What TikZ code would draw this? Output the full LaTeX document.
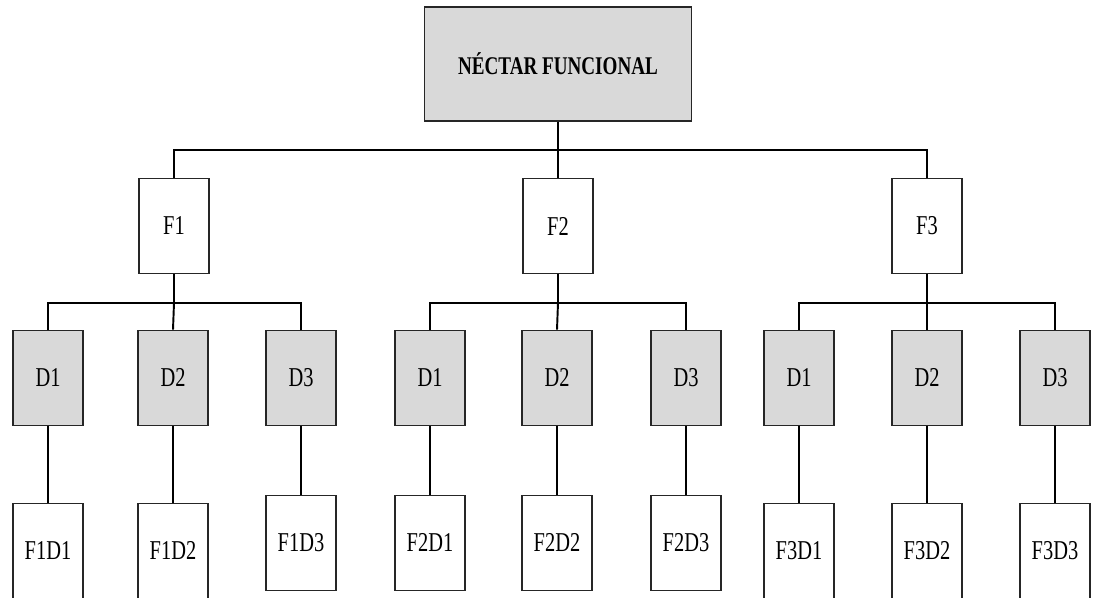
\documentclass[tikz,border=0pt]{standalone}
\usepackage{fontspec}
\setmainfont[FakeStretch=0.75]{Liberation Serif}
\usepackage{tikz}
\usetikzlibrary{positioning}

\definecolor{boxgray}{HTML}{D9D9D9}

\tikzset{
	box/.style={draw=black!85, line width=0.9pt, minimum width=70*0.02cm, minimum height=95*0.02cm, inner sep=0pt, font=\fontsize{15.5}{18}\selectfont},
	graybox/.style={box, fill=boxgray},
	link/.style={draw=black, line width=1.1pt}
}

\begin{document}
\begin{tikzpicture}[x=0.02cm, y=-0.02cm]
				\useasboundingbox (0,0) rectangle (1093,598);
				
				\node [graybox, minimum width=267*0.02cm, minimum height=114*0.02cm, font=\fontsize{14.5}{17}\selectfont\bfseries] (root) at (558,64) {NÉCTAR FUNCIONAL};
				
				\node [box] (f1) at (174,226) {F1};
				\node [box] (f2) at (558,226) {F2};
				\node [box] (f3) at (927,226) {F3};
				
				% % % % % % % % % % % % % % % % % % % % % % % % % %
				
				\node [graybox] (d11) at (48,378) {D1};
				\node [graybox] (d12) at (173,378) {D2};
				\node [graybox] (d13) at (301,378) {D3};
				
				\node [graybox] (d21) at (430,378) {D1};
				\node [graybox] (d22) at (557,378) {D2};
				\node [graybox] (d23) at (686,378) {D3};
				
				\node [graybox] (d31) at (799,378) {D1};
				\node [graybox] (d32) at (927,378) {D2};
				\node [graybox] (d33) at (1055,378) {D3};
				
				% % % % % % % % % % % % % % % % % % % % % % % % % %
				
				\node [box] (f1d1) at (48,551) {F1D1};
				\node [box] (f1d2) at (173,551) {F1D2};
				\node [box] (f1d3) at (301,543) {F1D3};
				
				\node [box] (f2d1) at (430,543) {F2D1};
				\node [box] (f2d2) at (557,543) {F2D2};
				\node [box] (f2d3) at (686,543) {F2D3};
				
				\node [box] (f3d1) at (799,551) {F3D1};
				\node [box] (f3d2) at (927,551) {F3D2};
				\node [box] (f3d3) at (1055,551) {F3D3};
				
				% % % % % % % % % % % % % % % % % % % % % % % % % %
				
				\coordinate (bus) at (558,150);
				\coordinate (bus1) at (174,303);
				\coordinate (bus2) at (558,303);
				\coordinate (bus3) at (927,303);
				
				\draw [link] (root.south) -- (bus);
				\draw [link] (bus) -| (f1.north);
				\draw [link] (bus) -- (f2.north);
				\draw [link] (bus) -| (f3.north);
				
				\draw [link] (f1.south) -- (bus1);
				\draw [link] (bus1) -| (d11.north);
				\draw [link] (bus1) -- (d12.north);
				\draw [link] (bus1) -| (d13.north);
				
				\draw [link] (f2.south) -- (bus2);
				\draw [link] (bus2) -| (d21.north);
				\draw [link] (bus2) -- (d22.north);
				\draw [link] (bus2) -| (d23.north);
				
				\draw [link] (f3.south) -- (bus3);
				\draw [link] (bus3) -| (d31.north);
				\draw [link] (bus3) -- (d32.north);
				\draw [link] (bus3) -| (d33.north);
				
				\draw [link] (d11) -- (f1d1);
				\draw [link] (d12) -- (f1d2);
				\draw [link] (d13) -- (f1d3);
				\draw [link] (d21) -- (f2d1);
				\draw [link] (d22) -- (f2d2);
				\draw [link] (d23) -- (f2d3);
				\draw [link] (d31) -- (f3d1);
				\draw [link] (d32) -- (f3d2);
				\draw [link] (d33) -- (f3d3);
\end{tikzpicture}
\end{document}
